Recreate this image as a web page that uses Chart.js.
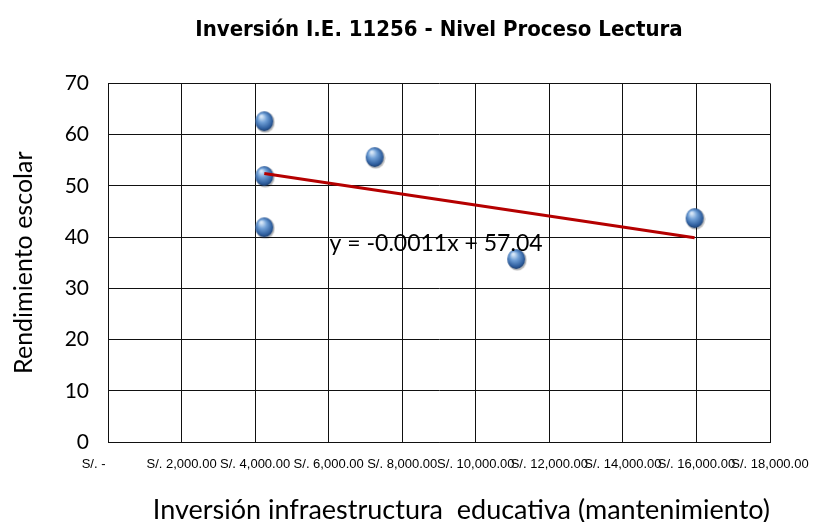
<!DOCTYPE html>
<html>
<head>
<meta charset="utf-8">
<title>Inversión I.E. 11256 - Nivel Proceso Lectura</title>
<script src="https://cdn.jsdelivr.net/npm/chart.js@4.4.1/dist/chart.umd.min.js"></script>
<style>
  html, body { margin: 0; padding: 0; background: #fff; }
  #wrap { width: 814px; height: 522px; }
</style>
</head>
<body>
<div id="wrap"><canvas id="myChart" width="814" height="522"></canvas></div>
<script>
/////////////////////////////
// Data
/////////////////////////////

// inversion (S/.) and rendimiento escolar per school record
const inversion = [4250, 4250, 4250, 7250, 11100, 15950];
const rendimiento = [62.6, 51.9, 41.9, 55.6, 35.7, 43.7];

const xTicks = [0, 2000, 4000, 6000, 8000, 10000, 12000, 14000, 16000, 18000];
const yTicks = [0, 10, 20, 30, 40, 50, 60, 70];

const trendLabel = 'y = -0.0011x + 57.04';

/////////////////////////////
// Helpers
/////////////////////////////

// least squares trend line over the points
function trendLine(xs, ys) {
  const n = xs.length;
  const mx = xs.reduce((a, b) => a + b, 0) / n;
  const my = ys.reduce((a, b) => a + b, 0) / n;
  let sxy = 0, sxx = 0;
  for (let i = 0; i < n; i++) {
    sxy += (xs[i] - mx) * (ys[i] - my);
    sxx += (xs[i] - mx) * (xs[i] - mx);
  }
  const m = sxy / sxx;
  const b = my - m * mx;
  const x0 = Math.min(...xs), x1 = Math.max(...xs);
  return [{ x: x0, y: m * x0 + b }, { x: x1, y: m * x1 + b }];
}

// blue 3D bubble marker
function sphere() {
  const c = document.createElement('canvas');
  c.width = 22; c.height = 24;
  const g = c.getContext('2d');
  g.fillStyle = 'rgba(0,0,0,0.25)';
  g.beginPath(); g.ellipse(12, 13, 9.5, 10.5, 0, 0, Math.PI * 2); g.fill();
  const grad = g.createRadialGradient(8, 7, 1, 11, 12, 11);
  grad.addColorStop(0, '#d6e6f7');
  grad.addColorStop(0.35, '#6f9fd6');
  grad.addColorStop(0.75, '#2f5f9f');
  grad.addColorStop(1, '#16315a');
  g.fillStyle = grad;
  g.beginPath(); g.ellipse(11, 12, 9, 10, 0, 0, Math.PI * 2); g.fill();
  return c;
}

const points = inversion.map((x, i) => ({ x: x, y: rendimiento[i] }));

// equation text next to the trend line
const eqLabel = {
  id: 'eqLabel',
  afterDatasetsDraw(chart) {
    const { ctx, scales: { x, y } } = chart;
    ctx.save();
    ctx.font = '23px Lato, "Open Sans", sans-serif';
    ctx.fillStyle = '#000';
    ctx.textAlign = 'center';
    ctx.textBaseline = 'middle';
    ctx.fillText(trendLabel, x.getPixelForValue(8920), y.getPixelForValue(38.8));
    ctx.restore();
  }
};

/////////////////////////////
// Chart
/////////////////////////////

const ctx = document.getElementById('myChart').getContext('2d');
const myChart = new Chart(ctx, {
  type: 'scatter',
  data: {
    datasets: [
      {
        type: 'line',
        label: 'Lineal',
        data: trendLine(inversion, rendimiento),
        borderColor: '#b50000',
        borderWidth: 3,
        pointRadius: 0,
        fill: false,
        order: 0
      },
      {
        label: 'Rendimiento',
        data: points,
        pointStyle: sphere(),
        pointRadius: 10,
        order: 1
      }
    ]
  },
  options: {
    responsive: false,
    animation: false,
    layout: { padding: { left: 0, right: 44, top: 0, bottom: 0 } },
    plugins: {
      legend: { display: false },
      tooltip: { enabled: false },
      title: {
        display: true,
        fullSize: false,
        text: 'Inversión I.E. 11256 - Nivel Proceso Lectura',
        color: '#000',
        font: { family: '"DejaVu Sans Condensed", sans-serif', size: 22, weight: 'bold' },
        padding: { top: 17, bottom: 40 }
      }
    },
    scales: {
      x: {
        type: 'linear',
        min: 0,
        max: 18000,
        afterBuildTicks: (s) => { s.ticks = xTicks.map(v => ({ value: v })); },
        afterFit: (s) => { s.height = 80; s.paddingLeft = 0; s.paddingRight = 0; },
        grid: { color: '#111', drawTicks: false, tickLength: 0 },
        border: { color: '#111' },
        ticks: {
          autoSkip: false,
          maxRotation: 0,
          padding: 15,
          color: '#000',
          font: { family: '"Liberation Sans", Arial, sans-serif', size: 13 },
          callback: (v) => v === 0 ? 'S/. -        ' : 'S/. ' + v.toLocaleString('en-US', { minimumFractionDigits: 2 })
        },
        title: {
          display: true,
          align: 'end',
          text: 'Inversión infraestructura  educativa (mantenimiento)',
          color: '#000',
          font: { family: 'Lato, "Open Sans", sans-serif', size: 27, lineHeight: 1 },
          padding: { top: 0, bottom: -2 }
        }
      },
      y: {
        min: 0,
        max: 70,
        afterBuildTicks: (s) => { s.ticks = yTicks.map(v => ({ value: v })); },
        afterFit: (s) => { s.width = 108; },
        grid: { color: '#111', drawTicks: false, tickLength: 0 },
        border: { color: '#111' },
        ticks: {
          padding: 19,
          color: '#000',
          font: { family: 'Lato, "Open Sans", sans-serif', size: 21 }
        },
        title: {
          display: true,
          text: 'Rendimiento escolar',
          color: '#000',
          font: { family: 'Lato, "Open Sans", sans-serif', size: 25, lineHeight: 1 },
          padding: { top: 11, bottom: 0 }
        }
      }
    }
  },
  plugins: [eqLabel]
});
</script>
</body>
</html>
